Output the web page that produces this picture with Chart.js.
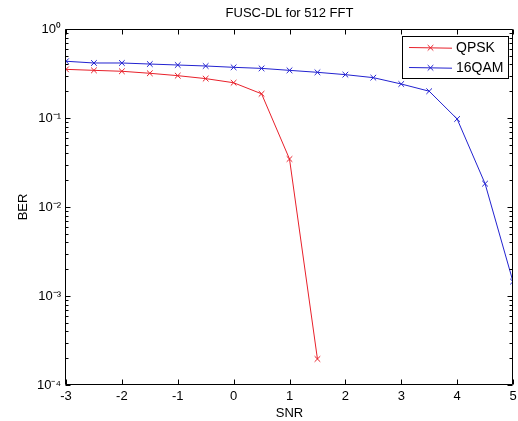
<!DOCTYPE html>
<html>
<head>
<meta charset="utf-8">
<script src="https://cdn.jsdelivr.net/npm/chart.js@4.4.1/dist/chart.umd.min.js"></script>
<style>
html,body{margin:0;padding:0;background:#fff;overflow:hidden;}
#wrap{width:518px;height:421px;position:relative;}
</style>
</head>
<body>
<div id="wrap"><canvas id="c" width="518" height="421"></canvas></div>
<script>
const snr = [-3,-2.5,-2,-1.5,-1,-0.5,0,0.5,1,1.5,2,2.5,3,3.5,4,4.5,5];
const qpskBer = [0.352,0.343,0.335,0.318,0.299,0.277,0.249,0.187,0.0346,0.000196];
const qam16Ber = [0.434,0.415,0.415,0.404,0.394,0.384,0.371,0.361,0.343,0.326,0.307,0.284,0.241,0.200,0.0975,0.0183,0.00145];
const xTicks = [-3,-2,-1,0,1,2,3,4,5];
const yDecades = [1e-4,1e-3,1e-2,1e-1,1];
const seriesNames = ['QPSK','16QAM'];
const seriesColors = ['rgb(232,32,42)','rgb(34,34,208)'];
const titleText = 'FUSC-DL for 512 FFT';
const xLabel = 'SNR';
const yLabel = 'BER';

const FONT = 'Arial, "Liberation Sans", Helvetica, sans-serif';
const supMap = {'-':'\u207B','0':'\u2070','1':'\u00B9','2':'\u00B2','3':'\u00B3','4':'\u2074','5':'\u2075','6':'\u2076','7':'\u2077','8':'\u2078','9':'\u2079'};
function sup(n){return String(n).split('').map(c=>supMap[c]||c).join('');}

const toXY = (ys) => ys.map((y,i)=>({x:snr[i], y:y}));

const matlabAxes = {
  id:'matlabAxes',
  afterDraw(chart){
    const ctx = chart.ctx, a = chart.chartArea;
    const xs = chart.scales.x, ys = chart.scales.y;
    const L = Math.round(a.left)-0.5, R = Math.round(a.right)-0.5, T = Math.round(a.top)+0.5, B = Math.round(a.bottom)-0.5;
    ctx.save();
    ctx.strokeStyle = '#000'; ctx.lineWidth = 1;
    ctx.beginPath();
    ctx.rect(L, T, R-L, B-T);
    xTicks.forEach(v=>{
      const px = Math.round(xs.getPixelForValue(v))+0.5;
      ctx.moveTo(px,B); ctx.lineTo(px,B-5);
      ctx.moveTo(px,T); ctx.lineTo(px,T+5);
    });
    for (let e=-4;e<=0;e++){
      for (let m=1;m<=9;m++){
        const v = m*Math.pow(10,e);
        if (v>1.0001) break;
        const py = Math.round(ys.getPixelForValue(v))+0.5;
        const len = m===1?5:3;
        ctx.moveTo(L,py); ctx.lineTo(L+len,py);
        ctx.moveTo(R,py); ctx.lineTo(R-len,py);
      }
    }
    ctx.stroke();
    ctx.restore();
    // legend box
    ctx.save();
    const bx=402.5, by=36.5, bw=106, bh=42;
    ctx.fillStyle='#fff';
    ctx.fillRect(bx,by,bw,bh);
    ctx.lineWidth = 1;
    ctx.strokeStyle='#000';
    ctx.strokeRect(bx,by,bw,bh);
    ctx.font = '14px '+FONT;
    ctx.textBaseline='middle';
    ctx.textAlign='left';
    for (let i=0;i<seriesNames.length;i++){
      const yy = 47 + i*20;
      const col = seriesColors[i];
      ctx.strokeStyle = col;
      ctx.lineWidth = 1;
      ctx.beginPath();
      ctx.moveTo(409, yy+0.5); ctx.lineTo(452, yy+1.2);
      ctx.stroke();
      const cx=430.5, cy=yy+0.8, r=2.8;
      ctx.beginPath();
      ctx.moveTo(cx-r,cy-r); ctx.lineTo(cx+r,cy+r);
      ctx.moveTo(cx-r,cy+r); ctx.lineTo(cx+r,cy-r);
      ctx.stroke();
      ctx.fillStyle='#000';
      ctx.fillText(seriesNames[i], 456, yy+1);
    }
    ctx.restore();
  }
};

new Chart(document.getElementById('c'), {
  type:'line',
  data:{
    datasets:[
      {label:seriesNames[0], data:toXY(qpskBer), borderColor:seriesColors[0], backgroundColor:seriesColors[0], borderWidth:1, pointStyle:'crossRot', pointRadius:4, pointBorderWidth:1, tension:0, fill:false},
      {label:seriesNames[1], data:toXY(qam16Ber), borderColor:seriesColors[1], backgroundColor:seriesColors[1], borderWidth:1, pointStyle:'crossRot', pointRadius:4, pointBorderWidth:1, tension:0, fill:false}
    ]
  },
  options:{
    responsive:false, animation:false,
    devicePixelRatio:1,
    layout:{padding:{left:0,right:0,top:0,bottom:0}},
    plugins:{
      legend:{display:false},
      tooltip:{enabled:false},
      title:{display:true, text:titleText, fullSize:false, color:'#000', font:{family:FONT,size:13,weight:'normal',lineHeight:1.2}, padding:{top:6,bottom:7.4}}
    },
    scales:{
      x:{type:'linear', min:-3, max:5,
        afterBuildTicks(s){ s.ticks = xTicks.map(v=>({value:v})); },
        afterFit(s){ s.height = 36; s.paddingRight = 0; s.paddingLeft = 0; },
        grid:{display:false, drawTicks:false}, border:{display:false},
        ticks:{color:'#000', font:{family:FONT,size:13}, padding:4, maxRotation:0, autoSkip:false},
        title:{display:true, text:xLabel, color:'#000', font:{family:FONT,size:13}, padding:{top:3,bottom:0}}
      },
      y:{type:'logarithmic', min:1e-4, max:1,
        afterBuildTicks(s){ s.ticks = yDecades.map(v=>({value:v})); },
        afterFit(s){ s.width = 66; s.paddingTop = 0; s.paddingBottom = 0; },
        grid:{display:false, drawTicks:false}, border:{display:false},
        ticks:{color:'#000', font:{family:FONT,size:13}, padding:5, autoSkip:false,
          callback:(v)=> '10'+sup(Math.round(Math.log10(v)))},
        title:{display:true, text:yLabel, color:'#000', font:{family:FONT,size:13}, padding:{top:16,bottom:0}}
      }
    }
  },
  plugins:[matlabAxes]
});
</script>
</body>
</html>
